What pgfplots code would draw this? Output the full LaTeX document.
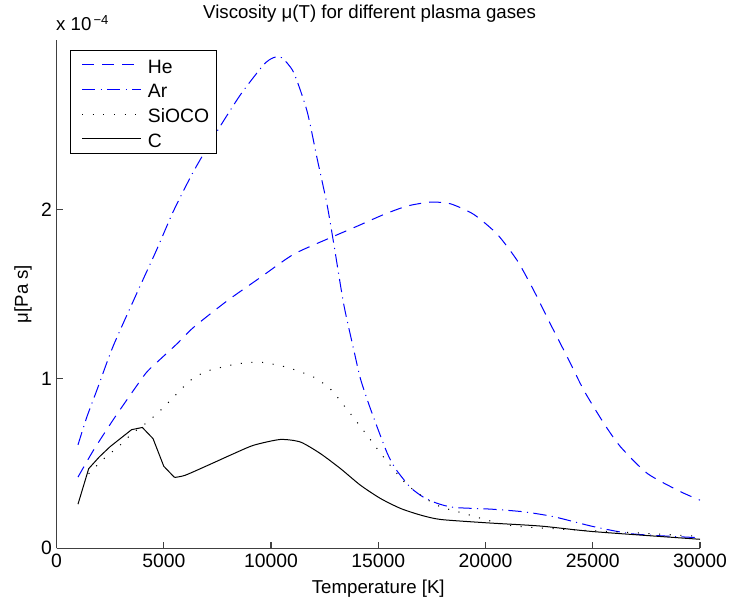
\documentclass[border=0pt]{standalone}
\usepackage{fontspec}
\setmainfont{Liberation Sans}
\usepackage{pgfplots}
\pgfplotsset{compat=1.18}
\begin{document}
\begin{tikzpicture}[font=\fontsize{14}{16.5}\selectfont]
\useasboundingbox (-42.4pt,-43.3pt) rectangle (506.6pt,411.2pt);
\begin{axis}[
  scale only axis, width=482.6pt, height=381.2pt,
  xmin=0, xmax=30000, ymin=0, ymax=3,
  axis x line*=bottom, axis y line*=left,
  axis line style={black!75, line width=0.8pt, -},
  xtick={0,5000,10000,15000,20000,25000,30000}, ytick={0,1,2},
  tick align=inside, major tick length=5pt,
  tick style={black!75, line width=0.8pt},
  scaled x ticks=false, scaled y ticks=false,
  /pgf/number format/assume math mode=true,
  /pgf/number format/set thousands separator={},
  tick label style={font=\fontsize{14.5}{17}\selectfont},
  xticklabel style={yshift=-1pt},
  title={Viscosity μ(T) for different plasma gases},
  title style={at={(axis description cs:0.4864,1)}, anchor=base, yshift=9.75pt},
  xlabel={Temperature [K]},
  xlabel style={at={(axis description cs:0.5,-0.080)}, anchor=center},
  ylabel={μ[Pa s]},
  ylabel style={at={(axis description cs:-0.052,0.5)}, anchor=center, rotate=0},
  legend style={at={(axis description cs:0.0202,0.9803)}, anchor=north west,
    draw=black, line width=0.8pt, fill=white, inner xsep=8.6pt, inner ysep=1.5pt,
    row sep=0pt, column sep=5pt, cells={anchor=west}, font=\fontsize{14.5}{17}\selectfont,
    nodes={inner ysep=2pt, inner xsep=0pt, text height=13.5pt, text depth=1pt, text width=42.6pt, align=left}},
  legend image code/.code={\draw[#1] (0pt,0pt) -- (44pt,0pt);},
  clip=false,
]
\addplot[blue, line width=0.75pt, dash pattern=on 9pt off 6pt, smooth, tension=0.4] coordinates {
(1000,0.42) (1720,0.578) (2650,0.76) (3550,0.925) (4200,1.039) (4830,1.115) (5610,1.206) (6390,1.304)
(7950,1.46) (9500,1.598) (11050,1.735) (12770,1.833) (14000,1.90) (15260,1.97)
(16350,2.02) (17440,2.043) (18370,2.033) (19460,1.97) (20550,1.853) (21490,1.696)
(22260,1.519) (23040,1.32) (23820,1.127) (24590,0.931) (25530,0.735) (26300,0.598)
(27550,0.441) (29110,0.333) (30000,0.284)};
\addlegendentry{He}
\addplot[blue, line width=0.75pt, dash pattern=on 10pt off 4pt on 0.8pt off 4pt, smooth, tension=0.4] coordinates {
(1000,0.61) (1400,0.77) (1900,0.94) (2650,1.196) (3900,1.549) (4680,1.765)
(5450,1.99) (6390,2.225) (7480,2.46) (8570,2.676) (9650,2.853) (10100,2.895)
(10500,2.895) (11050,2.81) (11680,2.58) (12150,2.30) (12610,2.03) (12930,1.794)
(13390,1.44) (13860,1.17) (14170,1.00) (14560,0.85) (14950,0.715) (15415,0.562)
(15800,0.47) (16500,0.359) (17125,0.30) (17750,0.265) (18530,0.241) (20240,0.231)
(21790,0.215) (23190,0.186) (25060,0.127) (26930,0.084) (30000,0.062)};
\addlegendentry{Ar}
\addplot[black, line width=0.75pt, dash pattern=on 0.8pt off 7.2pt, smooth, tension=0.4] coordinates {
(1500,0.44) (2260,0.535) (2890,0.60) (3510,0.676) (4180,0.739) (4800,0.808) (5380,0.882)
(6230,0.99) (7010,1.045) (8410,1.088) (9500,1.098) (10750,1.068) (11990,1.01)
(12770,0.94) (13310,0.857) (14090,0.731) (14600,0.647) (15100,0.562) (15620,0.48)
(16300,0.38) (17125,0.30) (17900,0.245) (18990,0.206) (21020,0.137) (23510,0.113)
(26000,0.098) (30000,0.07)};
\addlegendentry{SiOCO}
\addplot[black, line width=0.75pt] coordinates {
(1000,0.26) (1500,0.47) (2000,0.54) (2500,0.60) (3000,0.65) (3500,0.70)
(4000,0.713) (4500,0.647) (5000,0.484) (5500,0.418)};
\addlegendentry{C}
\addplot[black, line width=0.75pt, smooth, tension=0.4, forget plot] coordinates {
(5500,0.418) (6000,0.431) (7170,0.496) (8200,0.555) (9190,0.608) (10430,0.642)
(11370,0.627) (12300,0.559) (13240,0.47)
(14170,0.372) (15100,0.294) (16040,0.235) (16970,0.196) (17900,0.17)
(20080,0.15) (22570,0.131) (25060,0.098) (30000,0.053)};
\node[anchor=base west, inner sep=0pt] at (axis description cs:-0.001,1) [yshift=6.75pt] {x 10\textsuperscript{\,−4}};
\end{axis}
\end{tikzpicture}
\end{document}
